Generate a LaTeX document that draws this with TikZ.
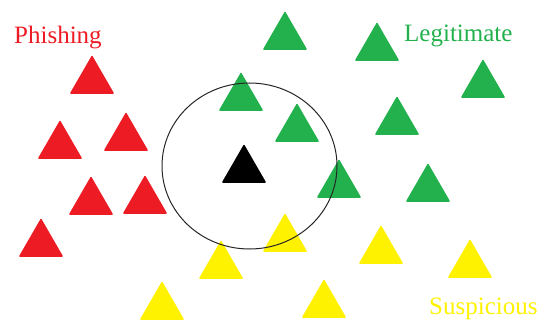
\documentclass[tikz,border=0pt]{standalone}
\usepackage{fontspec}
\setmainfont{Liberation Serif}
\usetikzlibrary{shapes.geometric}
\definecolor{pred}{HTML}{ED1C24}
\definecolor{pgreen}{HTML}{22B14C}
\definecolor{pyellow}{HTML}{FFF200}
\tikzset{
  tri/.style={regular polygon, regular polygon sides=3, minimum size=48.5pt, inner sep=0pt, outer sep=0pt,
    fill=#1, draw=#1, line width=1.6pt, line join=round, anchor=center},
  lab/.style={anchor=base west, inner sep=0pt, font=\fontsize{25}{30}\selectfont, text=#1}
}
\begin{document}
\begin{tikzpicture}[x=1pt,y=-1pt]
\useasboundingbox (0,0) rectangle (548,323);
% red (center x, apex y + 26)
\node[tri=pred] (r1) at (92,81) {};
\node[tri=pred] (r2) at (60,146) {};
\node[tri=pred] (r3) at (126,138) {};
\node[tri=pred] (r4) at (91,202) {};
\node[tri=pred] (r5) at (145,201) {};
\node[tri=pred] (r6) at (41,244) {};
% green
\node[tri=pgreen] (g1) at (285,37) {};
\node[tri=pgreen] (g2) at (377,48) {};
\node[tri=pgreen] (g3) at (483,85) {};
\node[tri=pgreen] (g4) at (241,98) {};
\node[tri=pgreen] (g5) at (297,129) {};
\node[tri=pgreen] (g6) at (397,122) {};
\node[tri=pgreen] (g7) at (339,185) {};
\node[tri=pgreen] (g8) at (428,189) {};
% yellow
\node[tri=pyellow] (y1) at (285,239) {};
\node[tri=pyellow] (y2) at (381,251) {};
\node[tri=pyellow] (y3) at (470,265) {};
\node[tri=pyellow] (y4) at (221,266) {};
\node[tri=pyellow] (y5) at (162,307) {};
\node[tri=pyellow] (y6) at (324,305) {};
% black
\node[tri=black] (k) at (244,170) {};
% circle
\node[ellipse, draw=black!85, line width=1pt, minimum width=175pt, minimum height=166pt, inner sep=0pt] (c) at (249.5,166) {};
% labels
\node[lab=pred] (tp) at (14,44) {Phishing};
\node[lab=pgreen] (tl) at (404,42) {Legitimate};
\node[lab=pyellow] (ts) at (429,314) {Suspicious};
\end{tikzpicture}
\end{document}
